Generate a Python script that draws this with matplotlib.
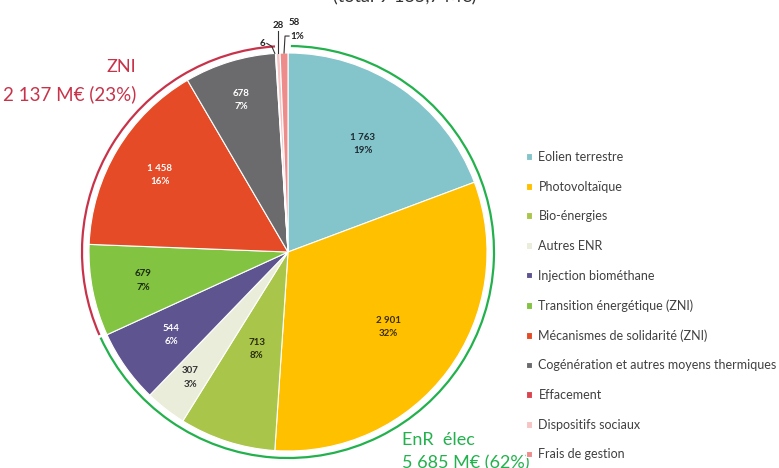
import numpy as np
import matplotlib
matplotlib.use("Agg")
import matplotlib.pyplot as plt
from matplotlib.patches import Arc

plt.rcParams['font.family'] = ['Lato', 'DejaVu Sans']

categories = ["Eolien terrestre", "Photovoltaïque", "Bio-énergies", "Autres ENR",
              "Injection biométhane", "Transition énergétique (ZNI)",
              "Mécanismes de solidarité (ZNI)", "Cogénération et autres moyens thermiques",
              "Effacement", "Dispositifs sociaux", "Frais de gestion"]
values = [1763, 2901, 713, 307, 544, 679, 1458, 678, 6, 28, 58]
value_labels = ["1 763", "2 901", "713", "307", "544", "679", "1 458", "678", "6", "28", "58"]
pct_labels = ["19%", "32%", "8%", "3%", "6%", "7%", "16%", "7%", "", "", "1%"]
colors = ["#84C5CB", "#FFC000", "#A9C54A", "#E9EDDA", "#5E5490", "#82C341",
          "#E54B26", "#6B6B6D", "#D9454F", "#F5C4C4", "#EE8B8B"]
text_colors = ["#1F2A33", "#3A2E10", "#2A2A10", "#333333", "white", "#1A2A10",
               "white", "white", "#222222", "#222222", "#222222"]
label_dist = [0.66, 0.63, 0.51, 0.8, 0.72, 0.74, 0.75, 0.8, 0, 0, 0]

groups = [("EnR élec", "5 685 M€ (62%)", 0, 4, "#22B14C"),
          ("ZNI", "2 137 M€ (23%)", 5, 7, "#C8334A")]

W, H = 779, 468
fig = plt.figure(figsize=(W / 100, H / 100), dpi=100)
ax = fig.add_axes([0, 0, 1, 1])
ax.set_aspect('equal')

cx, cy, R = 288, H - 252, 199
wedges, _ = ax.pie(values, colors=colors, startangle=90, counterclock=False,
                   center=(cx, cy), radius=R, frame=True,
                   wedgeprops=dict(edgecolor="white", linewidth=0.8))
ax.set_xlim(0, W)
ax.set_ylim(0, H)
ax.axis('off')

for i, w in enumerate(wedges):
    if label_dist[i] == 0:
        continue
    mid = np.radians((w.theta1 + w.theta2) / 2)
    x = cx + label_dist[i] * R * np.cos(mid)
    y = cy + label_dist[i] * R * np.sin(mid)
    ax.text(x, y, value_labels[i] + "\n" + pct_labels[i], ha="center", va="center",
            fontsize=7, fontweight="bold", color=text_colors[i], linespacing=1.6)

# small slices at the top: leader lines
for i in (8, 9, 10):
    w = wedges[i]
    mid = np.radians((w.theta1 + w.theta2) / 2)
    x0 = cx + R * np.cos(mid)
    y0 = cy + R * np.sin(mid)
    if i == 8:
        ax.plot([x0 - 1, x0 - 4, x0 - 9], [y0, y0 + 7, y0 + 10], color="#333333", lw=0.8)
        ax.text(x0 - 11, y0 + 10, value_labels[i], ha="right", va="center", fontsize=7,
                fontweight="bold", color="#222222")
    elif i == 9:
        ax.plot([x0, x0], [y0, y0 + 22], color="#333333", lw=0.8)
        ax.text(x0, y0 + 23, value_labels[i], ha="center", va="bottom", fontsize=7,
                fontweight="bold", color="#222222")
    else:
        ax.plot([x0, x0 + 1, x0 + 5], [y0, y0 + 17, y0 + 17], color="#333333", lw=0.8)
        ax.text(x0 + 6, y0 + 17, pct_labels[i], ha="left", va="center", fontsize=7,
                fontweight="bold", color="#222222")
        ax.text(x0 + 10, y0 + 26, value_labels[i], ha="center", va="bottom", fontsize=7,
                fontweight="bold", color="#222222")

# group arcs
for name, amount, a, b, col in groups:
    t1 = wedges[b].theta1
    t2 = wedges[a].theta2
    arc = Arc((cx, cy), 2 * 206, 2 * 206, theta1=t1, theta2=t2 - 0.8, color=col, lw=1.6)
    ax.add_patch(arc)

ax.text(121, H - 67, "ZNI", ha="center", va="center", fontsize=13, color="#C8334A")
ax.text(136, H - 94, "2 137 M€ (23%)", ha="right", va="center", fontsize=13.5, color="#C8334A")
ax.text(402, H - 440, "EnR  élec", ha="left", va="center", fontsize=13, color="#22B14C")
ax.text(402, H - 463, "5 685 M€ (62%)", ha="left", va="center", fontsize=13, color="#22B14C")

ax.text(405, H + 3, "(total 9 135,7 M€)", ha="center", va="center", fontsize=13,
        color="#333333", clip_on=False)

leg = ax.legend(wedges, categories, loc="upper left", bbox_to_anchor=(526 / W, 1 - 151 / H),
                frameon=False, fontsize=9, handlelength=0.45, handleheight=0.45,
                handletextpad=0.55, labelspacing=1.41, borderaxespad=0, borderpad=0)
for t in leg.get_texts():
    t.set_color("#404040")

fig.savefig("out.png", dpi=100)
